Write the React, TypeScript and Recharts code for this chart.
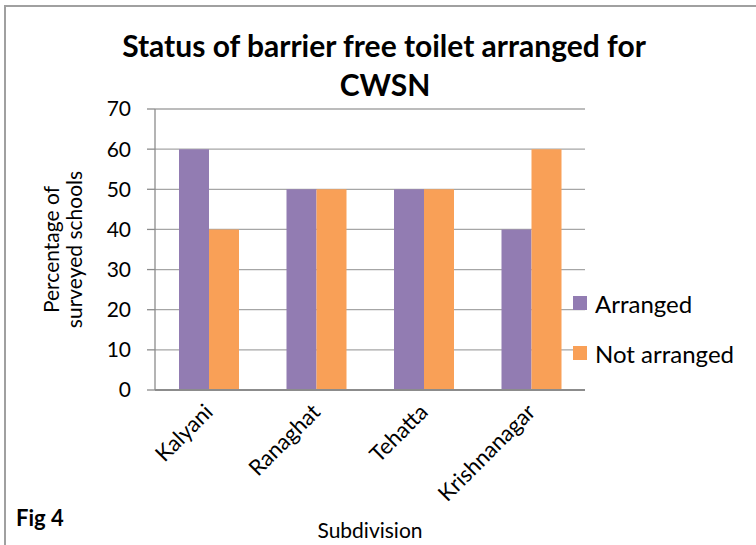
import React from "react";
import { BarChart, Bar, XAxis, YAxis, CartesianGrid, Label } from "recharts";

const subdivisions = ["Kalyani", "Ranaghat", "Tehatta", "Krishnanagar"];
const arranged = [60, 50, 50, 40];
const notArranged = [40, 50, 50, 60];
const yTicks = [0, 10, 20, 30, 40, 50, 60, 70];

const seriesNames = ["Arranged", "Not arranged"];
const seriesColors = ["#927CB2", "#F9A057"];

const data = subdivisions.map((name, i) => ({
  name,
  arranged: arranged[i],
  notArranged: notArranged[i],
}));

const FONT = "Lato, 'Open Sans', sans-serif";
const GRID = "#A6A6A6";
const AXIS = "#8C8C8C";

function CategoryTick(props: any) {
  const { x, y, payload } = props;
  return (
    <g transform={`translate(${x},${y + 10})`}>
      <text
        x={0}
        y={0}
        dy="0.35em"
        textAnchor="end"
        transform="rotate(-45)"
        fontSize={22}
        fontFamily={FONT}
        fill="#000"
      >
        {payload.value}
      </text>
    </g>
  );
}

function YTitle(props: any) {
  const { viewBox } = props;
  const cy = viewBox.y + viewBox.height / 2;
  const x1 = 59;
  const x2 = 82;
  return (
    <g>
      <text
        x={x1}
        y={cy}
        textAnchor="middle"
        transform={`rotate(-90, ${x1}, ${cy})`}
        fontSize={21}
        fontFamily={FONT}
        fill="#000"
      >
        Percentage of
      </text>
      <text
        x={x2}
        y={cy}
        textAnchor="middle"
        transform={`rotate(-90, ${x2}, ${cy})`}
        fontSize={21}
        fontFamily={FONT}
        fill="#000"
      >
        surveyed schools
      </text>
    </g>
  );
}

function LegendBox() {
  return (
    <div
      style={{
        position: "absolute",
        left: 573,
        top: 278,
        fontFamily: FONT,
        fontSize: 24,
        color: "#000",
      }}
    >
      {seriesNames.map((n, i) => (
        <div
          key={n}
          style={{ display: "flex", alignItems: "center", height: 50 }}
        >
          <span
            style={{
              display: "inline-block",
              width: 14,
              height: 14,
              background: seriesColors[i],
              marginRight: 8,
            }}
          />
          <span>{n}</span>
        </div>
      ))}
    </div>
  );
}

export default function App() {
  return (
    <div
      style={{
        position: "absolute",
        left: 0,
        top: 0,
        width: 756,
        height: 545,
        overflow: "hidden",
        background: "#fff",
        fontFamily: FONT,
      }}
    >
      <div
        style={{
          position: "absolute",
          left: 4,
          top: 5,
          width: 900,
          height: 700,
          border: "2px solid #A0A0A0",
        }}
      />
      <BarChart
        width={756}
        height={545}
        data={data}
        margin={{ top: 109, right: 171, left: 0, bottom: 0 }}
        barGap={0}
        barSize={30}
      >
        <CartesianGrid vertical={false} stroke={GRID} strokeWidth={1.3} />
        <XAxis
          dataKey="name"
          height={155}
          tickLine={false}
          axisLine={{ stroke: AXIS, strokeWidth: 2 }}
          tick={<CategoryTick />}
          interval={0}
        >
          <Label
            value="Subdivision"
            position="insideBottom"
            offset={7}
            fontSize={21}
            fontFamily={FONT}
            fill="#000"
          />
        </XAxis>
        <YAxis
          width={155}
          domain={[0, 70]}
          ticks={yTicks}
          interval={0}
          tickSize={8}
          tickMargin={16}
          tickLine={{ stroke: AXIS, strokeWidth: 1.3 }}
          axisLine={{ stroke: AXIS, strokeWidth: 1.3 }}
          tick={{ fontSize: 21, fontFamily: FONT, fill: "#000" }}
        >
          <Label content={<YTitle />} />
        </YAxis>
        <Bar
          dataKey="arranged"
          name={seriesNames[0]}
          fill={seriesColors[0]}
          isAnimationActive={false}
        />
        <Bar
          dataKey="notArranged"
          name={seriesNames[1]}
          fill={seriesColors[1]}
          isAnimationActive={false}
        />
      </BarChart>
      <LegendBox />
      <svg
        width={756}
        height={545}
        style={{ position: "absolute", left: 0, top: 0, pointerEvents: "none" }}
      >
        <text
          x={384}
          y={57}
          textAnchor="middle"
          fontSize={30}
          fontWeight="bold"
          fontFamily={FONT}
        >
          Status of barrier free toilet arranged for
        </text>
        <text
          x={385}
          y={96}
          textAnchor="middle"
          fontSize={30}
          fontWeight="bold"
          fontFamily={FONT}
        >
          CWSN
        </text>
        <text x={16} y={526} fontSize={22} fontWeight="bold" fontFamily={FONT}>
          Fig 4
        </text>
      </svg>
    </div>
  );
}
